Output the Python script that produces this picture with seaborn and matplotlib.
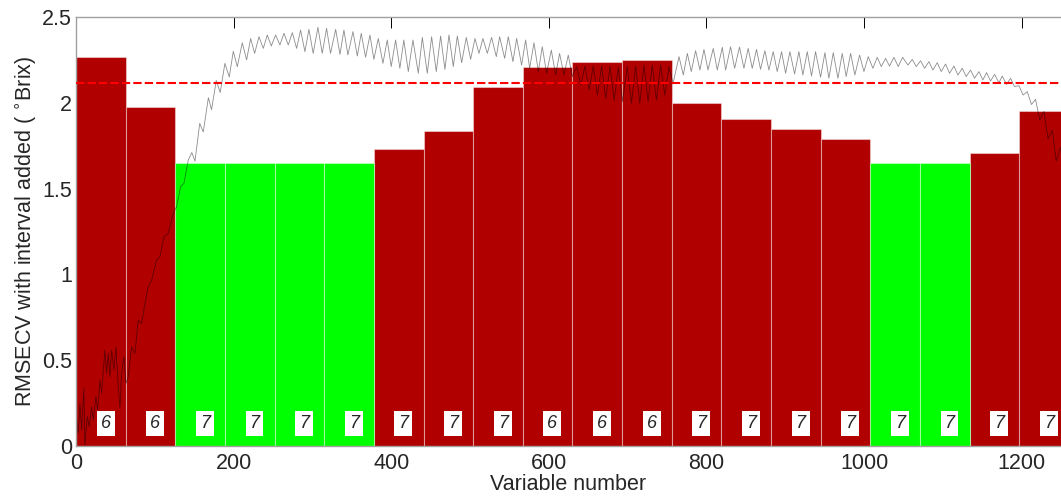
import numpy as np
import pandas as pd
import matplotlib
matplotlib.use("Agg")
import matplotlib.pyplot as plt
import seaborn as sns

# ---------------- data ----------------
interval_width = 63
rmsecv = [2.265, 1.977, 1.649, 1.649, 1.649, 1.649, 1.733, 1.838, 2.094, 2.210,
          2.240, 2.248, 2.000, 1.904, 1.849, 1.791, 1.649, 1.649, 1.707, 1.954]
selected = [False, False, True, True, True, True, False, False, False, False,
            False, False, False, False, False, False, True, True, False, False]
n_lv = [6, 6, 7, 7, 7, 7, 7, 7, 7, 6, 6, 6, 7, 7, 7, 7, 7, 7, 7, 7]
full_rmsecv = 2.115

x_ticks = [0, 200, 400, 600, 800, 1000, 1200]
y_ticks = [0, 0.5, 1, 1.5, 2, 2.5]
y_tick_labels = ["0", "0.5", "1", "1.5", "2", "2.5"]

line_x = [0.8, 2.9, 5, 7.1, 10, 11.3, 14.3, 16.8, 19.8, 21.9, 25.3, 27.4, 30.4, 32.5,
          36.7, 38.8, 41, 43, 45.2, 48.1, 50.7, 53.6, 55.8, 57.9, 60.8, 63.4, 66.3,
          70.6, 74.8, 79, 83.3, 87.5, 91.7, 96, 102.3, 106.5, 111.6, 117.1, 123.4,
          127.7, 132.7, 137, 142.5,
          147, 151, 157, 161.5, 168, 172, 178, 183, 189, 194.5, 199.6, 204.7, 211, 216.5,
          221.6, 226.7, 232.2, 237.7, 242.7, 247.8, 253.3, 258.8, 263.9, 269.4, 274.5,
          280, 285, 290.5, 295.6, 301, 307, 312.5, 318, 323, 329.5, 335, 340, 345,
          351.5, 357, 362, 367.5, 373, 378, 383.6, 389.5, 395, 400, 405.6, 411, 416, 421.7,
          427.6, 434.4, 439.5, 445.8, 451.3, 457.2, 462.7, 468.2, 473.3, 478.8, 483.9,
          489.4, 495.3, 500.8, 506.3, 511.4, 516.4, 522, 527.4, 533.4, 537.6, 544,
          548.6, 554.5, 559.2, 565.5, 570.6, 575.7, 581.2, 586.7, 591.7, 597.2, 603.2,
          608.7, 613.7, 619.2, 624.7, 629.8,
          635.3, 640.6, 645.9, 651.2, 656.5, 661.7, 667, 672.3, 677.6, 683, 688.2,
          693.5, 699.6, 704.9, 710.2, 715.5, 720.8, 726, 731.3, 736.6, 741.9, 747.2,
          752.5, 757.7,
          765.2, 770.7, 775.8, 780.8, 786.3, 791.8, 796.9, 802, 808.7, 813.8, 820.2,
          824.4, 830.7, 835.8, 842,
          847.6, 853, 858.2, 863.6, 868.7, 874.2, 879.3, 884.8, 889.9, 895.4, 900.5,
          906, 911.9, 917.4, 922.4, 928, 933.4, 938.5, 944.9, 950.4, 955.4, 961,
          966.9, 972.4, 977.4, 983, 988.4, 994.4, 999.9, 1005.4, 1011.3, 1016.8,
          1021.9, 1027.4, 1032.4, 1038, 1043.4, 1049,
          1055.7, 1061.2, 1066.3, 1071.8, 1076.9, 1082.4, 1087.4, 1093, 1098, 1103.5,
          1108.6, 1114.1, 1119.2, 1124.7, 1129.7, 1135.2, 1140.3, 1145.8, 1150.9,
          1155.5, 1160.6, 1165.7, 1171.2, 1175.4, 1180.9, 1186, 1191, 1196.6, 1201.9,
          1207.2, 1212.5, 1217.7, 1223, 1228.3, 1233.6, 1238.9, 1244, 1249.5]
line_y = [0.152, 0.074, 0.248, 0.093, 0.336, 0.006, 0.171, 0.113, 0.229, 0.152, 0.288,
          0.210, 0.385, 0.307, 0.559, 0.423, 0.540, 0.404, 0.559, 0.443, 0.578, 0.346,
          0.219, 0.423, 0.520, 0.365, 0.404, 0.578, 0.540, 0.734, 0.714, 0.831, 0.928,
          0.967, 1.083, 1.103, 1.220, 1.239, 1.356, 1.395, 1.511, 1.531, 1.667,
          1.71, 1.66, 1.88, 1.83, 2.03, 1.96, 2.13, 2.06, 2.23, 2.15, 2.30, 2.21, 2.35, 2.25,
          2.375, 2.288, 2.385, 2.317, 2.395, 2.331, 2.395, 2.337, 2.405, 2.337, 2.409,
          2.317, 2.424, 2.298, 2.428, 2.288, 2.440, 2.288, 2.434, 2.288, 2.428, 2.282,
          2.424, 2.279, 2.415, 2.273, 2.405, 2.265, 2.395, 2.253, 2.375, 2.230, 2.366,
          2.211, 2.366, 2.201, 2.366, 2.182,
          2.366, 2.172, 2.381, 2.172, 2.385, 2.182, 2.389, 2.195, 2.395, 2.211, 2.389,
          2.234, 2.381, 2.253, 2.375, 2.288, 2.375, 2.288, 2.381, 2.269, 2.385, 2.259,
          2.385, 2.240, 2.375, 2.220, 2.366, 2.201, 2.350, 2.182, 2.327, 2.172, 2.307,
          2.162, 2.288, 2.162, 2.278, 2.153,
          2.211, 2.104, 2.214, 2.075, 2.214, 2.045, 2.214, 2.026, 2.211, 2.016, 2.207,
          2.007, 2.211, 1.997, 2.214, 1.997, 2.220, 2.007, 2.220, 2.016, 2.220, 2.045,
          2.211, 2.113,
          2.269, 2.162, 2.288, 2.182, 2.304, 2.191, 2.311, 2.191, 2.317, 2.191, 2.323,
          2.191, 2.327, 2.201, 2.325,
          2.201, 2.317, 2.201, 2.311, 2.195, 2.304, 2.191, 2.298, 2.182, 2.298, 2.172,
          2.298, 2.168, 2.298, 2.162, 2.298, 2.156, 2.298, 2.149, 2.292, 2.143, 2.292,
          2.143, 2.288, 2.153, 2.288, 2.162, 2.278, 2.182, 2.269, 2.201, 2.265,
          2.211, 2.259, 2.214, 2.265, 2.211, 2.265,
          2.220, 2.253, 2.211, 2.245, 2.201, 2.240, 2.191, 2.234, 2.182, 2.226,
          2.172, 2.214, 2.162, 2.201, 2.153, 2.191, 2.143, 2.182, 2.133,
          2.176, 2.127, 2.166, 2.117, 2.156, 2.107, 2.143, 2.094, 2.100, 2.045,
          2.065, 1.990, 2.020, 1.900, 1.950, 1.790, 1.840, 1.660, 1.740]

# ---------------- figure ----------------
sns.set_style("white")
plt.rcParams["font.family"] = ["Liberation Sans", "DejaVu Sans"]

W, H = 1061, 497
fig = plt.figure(figsize=(W / 100, H / 100), dpi=100)
ax = fig.add_axes([76 / W, (H - 446) / H, (W - 76) / W, (446 - 17) / H])

edges = np.arange(len(rmsecv)) * interval_width
centers = edges + interval_width / 2
df = pd.DataFrame({"center": centers, "rmsecv": rmsecv,
                   "status": ["sel" if s else "not" for s in selected]})

sns.barplot(data=df, x="center", y="rmsecv", hue="status",
            palette={"sel": "#00FF00", "not": "#B00000"}, saturation=1,
            native_scale=True, width=1, dodge=False, errorbar=None, legend=False,
            edgecolor=(1, 1, 1, 0.4), linewidth=0.8, ax=ax, zorder=1)

sns.lineplot(x=line_x, y=line_y, color="black", alpha=0.45, linewidth=0.6,
             estimator=None, sort=False, ax=ax, zorder=2)

ax.axhline(full_rmsecv, color="#FF0000", linewidth=1.5, linestyle=(0, (4, 1.5)), zorder=3)

for c, n in zip(centers, n_lv):
    ax.text(c + 6, 0.131, str(n), ha="center", va="center", fontsize=13,
            style="italic", zorder=4,
            bbox=dict(boxstyle="square,pad=0.22", fc="white", ec="none"))

ax.set_xlim(0, (W - 76) / 0.788)
ax.set_ylim(0, 2.5)
ax.set_xticks(x_ticks)
ax.set_xticklabels([str(t) for t in x_ticks])
ax.set_yticks(y_ticks)
ax.set_yticklabels(y_tick_labels)
ax.set_axisbelow(True)
ax.tick_params(axis="both", which="both", labelsize=15.5, direction="in",
               length=8, width=0.7, color="black", top=True, right=False, pad=3)
ax.tick_params(axis="x", pad=5)
for side in ["top", "left", "bottom"]:
    ax.spines[side].set_color("#A0A0A0")
    ax.spines[side].set_linewidth(1.0)
ax.spines["right"].set_visible(False)

ax.set_xlabel("Variable number", fontsize=15.5, labelpad=0)
ax.set_ylabel("RMSECV with interval added ( $^{\\circ}$Brix)", fontsize=15.5, labelpad=2)

fig.savefig("out.png", dpi=100)
